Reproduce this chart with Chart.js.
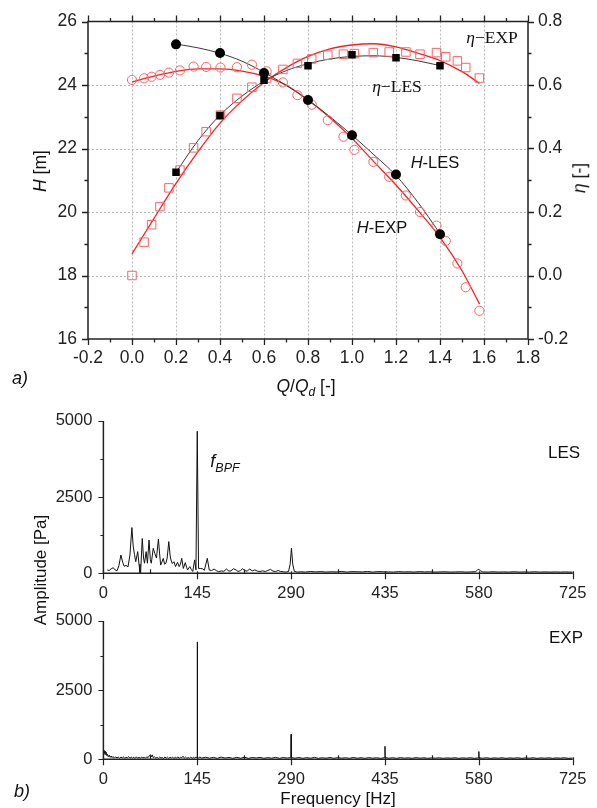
<!DOCTYPE html>
<html>
<head>
<meta charset="utf-8">
<script src="https://cdn.jsdelivr.net/npm/chart.js@4.4.0/dist/chart.umd.min.js"></script>
<style>
body { margin: 0; background: #fff; }
#wrap { position: relative; width: 597px; height: 808px; font-family: "Liberation Sans", Arial, sans-serif; color: #111; overflow: hidden; }
canvas { position: absolute; left: 0; }
.t { position: absolute; white-space: nowrap; transform: translate(-50%, -50%); line-height: 1; }
.rot { transform: translate(-50%, -50%) rotate(-90deg); }
.serif { font-family: "Liberation Serif", "Times New Roman", serif; }
</style>
</head>
<body>
<div id="wrap">
  <canvas id="perf" width="597" height="400" style="top:0"></canvas>
  <canvas id="les" width="597" height="210" style="top:400px"></canvas>
  <canvas id="exp" width="597" height="200" style="top:600px"></canvas>

  <div class="t serif" style="left:492px;top:38px;font-size:17.5px"><i>η</i>−EXP</div>
  <div class="t serif" style="left:397px;top:87px;font-size:17.5px"><i>η</i>−LES</div>
  <div class="t" style="left:435px;top:162px;font-size:16.5px"><i>H</i>-LES</div>
  <div class="t" style="left:382px;top:227px;font-size:16.5px"><i>H</i>-EXP</div>
  <div class="t rot" style="left:41px;top:171px;font-size:17.5px"><i>H</i> [m]</div>
  <div class="t rot" style="left:580px;top:178px;font-size:17.5px"><i>η</i> [-]</div>
  <div class="t" style="left:306px;top:388px;font-size:17.5px"><i>Q</i>/<i>Q</i><sub style="font-size:12px"><i>d</i></sub> [-]</div>
  <div class="t" style="left:20px;top:378px;font-size:18px"><i>a)</i></div>

  <div class="t" style="left:225px;top:463px;font-size:18px"><i>f</i><sub style="font-size:12.5px"><i>BPF</i></sub></div>
  <div class="t" style="left:564px;top:452px;font-size:17px">LES</div>
  <div class="t" style="left:566px;top:637px;font-size:17px">EXP</div>
  <div class="t rot" style="left:40px;top:570px;font-size:17px">Amplitude [Pa]</div>
  <div class="t" style="left:338px;top:798px;font-size:17px">Frequency [Hz]</div>
  <div class="t" style="left:22px;top:791px;font-size:18px"><i>b)</i></div>
</div>

<script>
// ---- a) head / efficiency vs Q/Qd ----
const qLes = [0.2, 0.4, 0.6, 0.8, 1.0, 1.2, 1.4];
const headLes = [25.28, 25.01, 24.38, 23.53, 22.42, 21.18, 19.30];
const effLes = [0.325, 0.504, 0.615, 0.661, 0.695, 0.686, 0.661];

const qExp = [0.0, 0.055, 0.089, 0.127, 0.168, 0.218, 0.28, 0.337, 0.402, 0.477, 0.545, 0.612, 0.686, 0.752, 0.817, 0.89, 0.961, 1.011, 1.097, 1.169, 1.245, 1.309, 1.384, 1.426, 1.479, 1.517, 1.579];
const headExp = [24.16, 24.21, 24.26, 24.32, 24.39, 24.46, 24.58, 24.57, 24.55, 24.56, 24.64, 24.43, 24.08, 23.68, 23.38, 22.89, 22.37, 21.96, 21.58, 21.11, 20.52, 20.00, 19.57, 19.09, 18.38, 17.63, 16.89];
const effExp = [0.0, 0.105, 0.160, 0.217, 0.276, 0.332, 0.402, 0.453, 0.505, 0.558, 0.593, 0.622, 0.649, 0.668, 0.682, 0.694, 0.697, 0.699, 0.702, 0.704, 0.704, 0.697, 0.702, 0.689, 0.676, 0.655, 0.622];

// fitted curves
const qFitExp = [0, 0.1, 0.2, 0.3, 0.4, 0.5, 0.6, 0.7, 0.8, 0.9, 1.0, 1.1, 1.2, 1.3, 1.4, 1.5, 1.58];
const headExpFit = [24.10, 24.28, 24.43, 24.51, 24.51, 24.44, 24.28, 24.00, 23.53, 22.97, 22.32, 21.58, 20.85, 20.05, 19.20, 18.15, 17.10];
const effExpFit = [0.068, 0.18, 0.29, 0.39, 0.48, 0.55, 0.608, 0.654, 0.69, 0.714, 0.726, 0.73, 0.72, 0.70, 0.677, 0.642, 0.605];
const qFitLes = [0.2, 0.3, 0.4, 0.5, 0.6, 0.7, 0.8, 0.9, 1.0, 1.1, 1.2, 1.3, 1.4];
const headLesFit = [25.29, 25.17, 25.00, 24.75, 24.40, 23.99, 23.53, 23.00, 22.42, 21.80, 21.15, 20.30, 19.32];
const effLesFit = [0.325, 0.425, 0.505, 0.565, 0.612, 0.645, 0.667, 0.682, 0.690, 0.692, 0.687, 0.676, 0.661];

const qTicks = [-0.2, 0, 0.2, 0.4, 0.6, 0.8, 1.0, 1.2, 1.4, 1.6, 1.8];
const hTicks = [16, 18, 20, 22, 24, 26];
const etaTicks = [-0.2, 0, 0.2, 0.4, 0.6, 0.8];

// ---- b) pressure spectra ----
const freqTicks = [0, 145, 290, 435, 580, 725];
const ampTicks = [0, 2500, 5000];

const lesFreq = [6, 9, 12, 15, 18, 21, 24, 27, 30, 32, 35, 38, 41, 44, 46, 48, 50, 53, 55, 56.5, 57.5, 60, 62, 63.5, 66, 68, 70.5, 72.5, 74, 77, 79.5, 82, 85, 87, 88.5, 91, 92.5, 94.5, 96.5, 98.5, 101, 103, 104.5, 106.5, 109, 111.5, 114.5, 117, 119, 121, 123.5, 126.5, 128.5, 130, 133.5, 136, 138, 141, 143, 145, 147, 149.5, 153, 156, 160.5, 163.5, 167, 171, 175, 178, 183, 186, 190, 194, 197, 201, 205, 208, 212, 215, 218, 222, 226, 230, 234, 238, 242, 246, 250, 254, 258, 262, 266, 270, 274, 278, 282, 286, 288.5, 290.5, 292.5, 295, 300, 305, 312, 320, 328, 336, 344, 352, 360, 368, 376, 384, 392, 400, 408, 416, 424, 432, 440, 448, 456, 464, 472, 480, 488, 496, 504, 512, 520, 528, 536, 544, 552, 560, 568, 575, 578, 580, 582, 586, 594, 602, 610, 618, 626, 634, 642, 650, 658, 666, 674, 682, 690, 698, 706, 714, 720, 725];
const lesAmp = [110, 90, 150, 180, 120, 80, 250, 600, 350, 230, 260, 210, 600, 1500, 900, 620, 380, 710, 300, 20, 30, 1140, 500, 330, 710, 330, 1090, 450, 330, 820, 650, 500, 1120, 600, 270, 400, 490, 300, 330, 500, 1040, 600, 430, 320, 380, 220, 360, 220, 300, 490, 160, 350, 200, 110, 220, 120, 60, 440, 110, 4660, 160, 160, 150, 100, 490, 110, 90, 140, 80, 55, 80, 60, 140, 70, 80, 150, 110, 60, 90, 150, 90, 70, 140, 80, 110, 70, 60, 80, 60, 90, 130, 70, 60, 90, 60, 50, 40, 60, 300, 820, 300, 60, 40, 50, 40, 60, 45, 55, 40, 50, 45, 60, 40, 55, 50, 45, 60, 40, 55, 50, 45, 40, 55, 45, 50, 40, 55, 45, 50, 40, 45, 50, 40, 45, 50, 40, 45, 55, 110, 130, 90, 45, 40, 50, 40, 45, 40, 50, 40, 45, 40, 50, 40, 45, 40, 45, 40, 45, 40, 40];

const expFreq = [
  0, 0.8, 1.6, 2.4, 3.2, 4, 5, 6, 7.5, 9,
  10.5, 12, 13.5, 15, 17, 19, 21, 23, 25, 27,
  29, 31, 33, 35, 37, 39, 41, 43, 45, 47,
  49, 51, 53, 55, 57, 59, 61, 63, 65, 67,
  69, 71, 72.5, 74, 75.5, 77, 79, 81, 83, 85,
  87, 89, 91, 93, 95, 97, 99, 101, 103, 105,
  107, 109, 111, 113, 115, 117, 119, 121, 123, 125,
  127, 129, 131, 133, 135, 137, 139, 141, 143, 144.6,
  145, 145.4, 147, 149,
  152, 158, 164, 170, 176, 182, 188, 194, 200, 206,
  212, 218, 224, 230, 236, 242, 248, 254, 260, 266,
  272, 278, 284, 289.6, 290, 290.4, 296, 302, 308, 314,
  320, 326, 332, 338, 344, 350, 356, 362, 368, 374,
  380, 386, 392, 398, 404, 410, 416, 422, 428, 434.6,
  435, 435.4, 441, 447, 453, 459, 465, 471, 477, 483,
  489, 495, 501, 507, 513, 519, 525, 531, 537, 543,
  549, 555, 561, 567, 573, 579.6, 580, 580.4, 586, 592,
  598, 604, 610, 616, 622, 628, 634, 640, 646, 652,
  658, 664, 670, 676, 682, 688, 694, 700, 706, 712,
  718, 725];
const expAmp = [
  150, 330, 220, 300, 180, 260, 140, 190, 90, 150,
  70, 120, 60, 100, 40, 90, 50, 80, 35, 85,
  45, 90, 30, 75, 50, 95, 35, 80, 45, 70,
  30, 90, 40, 75, 35, 85, 50, 70, 40, 90,
  60, 130, 170, 90, 160, 60, 85, 40, 70, 35,
  80, 45, 65, 30, 85, 40, 75, 35, 70, 45,
  80, 30, 75, 40, 90, 35, 70, 55, 110, 40,
  80, 35, 65, 40, 85, 30, 70, 45, 80, 60,
  4240, 60, 50, 80,
  45, 75, 40, 70, 35, 80, 45, 65, 35, 70,
  40, 75, 35, 65, 45, 70, 35, 60, 40, 70,
  35, 65, 45, 60, 900, 60, 40, 65, 35, 60,
  40, 70, 35, 55, 40, 65, 35, 60, 40, 55,
  35, 65, 40, 55, 35, 60, 40, 55, 35, 60,
  470, 60, 40, 55, 35, 60, 40, 55, 35, 60,
  40, 55, 35, 50, 40, 55, 35, 50, 40, 55,
  35, 50, 40, 55, 35, 50, 280, 50, 40, 55,
  35, 50, 40, 55, 35, 50, 40, 55, 35, 50,
  40, 55, 35, 50, 40, 55, 35, 50, 40, 55,
  35, 45];

const pts = (xs, ys) => xs.map((x, i) => ({x: x, y: ys[i]}));
const mid = arr => arr.slice(1).map((v, i) => (v + arr[i]) / 2);

function marks(ctx, scale, vals, side, out, inn) {
  const a = scale.chart.chartArea;
  ctx.beginPath();
  for (const v of vals) {
    const p = Math.round(scale.getPixelForValue(v)) + 0.5;
    if (side === 'left') { ctx.moveTo(a.left + inn, p); ctx.lineTo(a.left - out, p); }
    if (side === 'right') { ctx.moveTo(a.right - inn, p); ctx.lineTo(a.right + out, p); }
    if (side === 'bottom') { ctx.moveTo(p, a.bottom - inn); ctx.lineTo(p, a.bottom + out); }
    if (side === 'top') { ctx.moveTo(p, a.top + inn); ctx.lineTo(p, a.top - out); }
  }
  ctx.stroke();
}

const tickFont = {family: "'Liberation Sans', Arial, sans-serif", size: 17.5};

// grid + frame for the performance chart
const perfFrame = {
  id: 'perfFrame',
  beforeDatasetsDraw(chart) {
    const {ctx, chartArea: a, scales} = chart;
    ctx.save();
    ctx.strokeStyle = '#b8b8b8';
    ctx.lineWidth = 1;
    ctx.setLineDash([2, 2]);
    ctx.beginPath();
    qTicks.slice(1, -1).forEach(v => {
      const x = Math.round(scales.x.getPixelForValue(v)) + 0.5;
      ctx.moveTo(x, a.top); ctx.lineTo(x, a.bottom);
    });
    hTicks.slice(1, -1).forEach(v => {
      const y = Math.round(scales.y.getPixelForValue(v)) + 0.5;
      ctx.moveTo(a.left, y); ctx.lineTo(a.right, y);
    });
    ctx.stroke();
    ctx.restore();
  },
  afterDraw(chart) {
    const {ctx, chartArea: a, scales} = chart;
    ctx.save();
    ctx.strokeStyle = '#222';
    ctx.lineWidth = 1.5;
    ctx.strokeRect(a.left, a.top, a.right - a.left, a.bottom - a.top);
    ctx.lineWidth = 1.3;
    marks(ctx, scales.x, qTicks, 'bottom', 6, 0);
    marks(ctx, scales.x, mid(qTicks), 'bottom', 3.5, 0);
    marks(ctx, scales.x, qTicks, 'top', 6, 0);
    marks(ctx, scales.x, mid(qTicks), 'top', 3.5, 0);
    marks(ctx, scales.y, hTicks, 'left', 6, 0);
    marks(ctx, scales.y, mid(hTicks), 'left', 3.5, 0);
    marks(ctx, scales.y2, etaTicks, 'right', 6, 0);
    marks(ctx, scales.y2, mid(etaTicks), 'right', 3.5, 0);
    ctx.restore();
  }
};

const red = '#ff1e1e';
const redMark = '#ff6262';

new Chart(document.getElementById('perf'), {
  type: 'scatter',
  data: {
    datasets: [
      {data: pts(qLes, headLes), yAxisID: 'y', pointStyle: 'circle', pointRadius: 5, backgroundColor: '#000', borderColor: '#000', borderWidth: 0},
      {data: pts(qLes, effLes), yAxisID: 'y2', pointStyle: 'rect', pointRadius: 5.3, backgroundColor: '#000', borderColor: '#000', borderWidth: 0},
      {data: pts(qExp, headExp), yAxisID: 'y', pointStyle: 'circle', pointRadius: 4.6, backgroundColor: 'rgba(0,0,0,0)', borderColor: redMark, borderWidth: 1},
      {data: pts(qExp, effExp), yAxisID: 'y2', pointStyle: 'rect', pointRadius: 6, backgroundColor: 'rgba(0,0,0,0)', borderColor: redMark, borderWidth: 1},
      {data: pts(qFitLes, headLesFit), yAxisID: 'y', showLine: true, pointRadius: 0, borderColor: '#3a3a3a', borderWidth: 1, cubicInterpolationMode: 'monotone'},
      {data: pts(qFitLes, effLesFit), yAxisID: 'y2', showLine: true, pointRadius: 0, borderColor: '#3a3a3a', borderWidth: 1, cubicInterpolationMode: 'monotone'},
      {data: pts(qFitExp, headExpFit), yAxisID: 'y', showLine: true, pointRadius: 0, borderColor: red, borderWidth: 1.3, cubicInterpolationMode: 'monotone'},
      {data: pts(qFitExp, effExpFit), yAxisID: 'y2', showLine: true, pointRadius: 0, borderColor: red, borderWidth: 1.3, cubicInterpolationMode: 'monotone'}
    ]
  },
  options: {
    responsive: false,
    animation: false,
    layout: {padding: {top: 15, left: 0, right: 0, bottom: 0}},
    plugins: {legend: {display: false}, tooltip: {enabled: false}},
    scales: {
      x: {
        type: 'linear', min: -0.2, max: 1.8,
        afterBuildTicks: s => { s.ticks = qTicks.map(v => ({value: v})); },
        afterFit: s => { s.height = 61; },
        grid: {display: false, drawTicks: false},
        border: {display: false},
        ticks: {font: tickFont, color: '#222', padding: 9, maxRotation: 0, callback: v => v.toFixed(1)}
      },
      y: {
        type: 'linear', position: 'left', min: 16, max: 26,
        afterBuildTicks: s => { s.ticks = hTicks.map(v => ({value: v})); },
        afterFit: s => { s.width = 88; },
        grid: {display: false, drawTicks: false},
        border: {display: false},
        ticks: {font: tickFont, color: '#222', padding: 11}
      },
      y2: {
        type: 'linear', position: 'right', min: -0.2, max: 0.8,
        afterBuildTicks: s => { s.ticks = etaTicks.map(v => ({value: v})); },
        afterFit: s => { s.width = 69; },
        grid: {display: false, drawTicks: false},
        border: {display: false},
        ticks: {font: tickFont, color: '#222', padding: 10, callback: v => v.toFixed(1)}
      }
    }
  },
  plugins: [perfFrame]
});

// spectrum axes (left + bottom only)
const specAxes = {
  id: 'specAxes',
  afterDraw(chart) {
    const {ctx, chartArea: a, scales} = chart;
    ctx.save();
    ctx.strokeStyle = '#222';
    ctx.lineWidth = 1.5;
    ctx.beginPath();
    ctx.moveTo(a.left, a.top); ctx.lineTo(a.left, a.bottom); ctx.lineTo(a.right, a.bottom);
    ctx.stroke();
    ctx.lineWidth = 1.2;
    marks(ctx, scales.x, freqTicks, 'bottom', 6, 2);
    marks(ctx, scales.x, mid(freqTicks), 'bottom', 0, 4);
    marks(ctx, scales.y, ampTicks, 'left', 5, 0);
    marks(ctx, scales.y, mid(ampTicks), 'left', 3, 0);
    ctx.restore();
  }
};

const specFont = {family: "'Liberation Sans', Arial, sans-serif", size: 16.5};

function spectrum(id, freq, amp, top, xh) {
  return new Chart(document.getElementById(id), {
    type: 'scatter',
    data: {
      datasets: [{data: pts(freq, amp), showLine: true, pointRadius: 0, borderColor: '#111', borderWidth: 1, tension: 0}]
    },
    options: {
      responsive: false,
      animation: false,
      layout: {padding: {top: top, left: 0, right: 24.3, bottom: 0}},
      plugins: {legend: {display: false}, tooltip: {enabled: false}},
      scales: {
        x: {
          type: 'linear', min: 0, max: 725,
          afterBuildTicks: s => { s.ticks = freqTicks.map(v => ({value: v})); },
          afterFit: s => { s.height = xh; },
          grid: {display: false, drawTicks: false},
          border: {display: false},
          ticks: {font: specFont, color: '#222', padding: 10, maxRotation: 0}
        },
        y: {
          type: 'linear', min: 0, max: 5000,
          afterBuildTicks: s => { s.ticks = ampTicks.map(v => ({value: v})); },
          afterFit: s => { s.width = 103.4; },
          grid: {display: false, drawTicks: false},
          border: {display: false},
          ticks: {font: specFont, color: '#222', padding: 11, callback: v => String(v)}
        }
      }
    },
    plugins: [specAxes]
  });
}

spectrum('les', lesFreq, lesAmp, 20, 36.7);
spectrum('exp', expFreq, expAmp, 6, 40.7);
</script>
</body>
</html>
